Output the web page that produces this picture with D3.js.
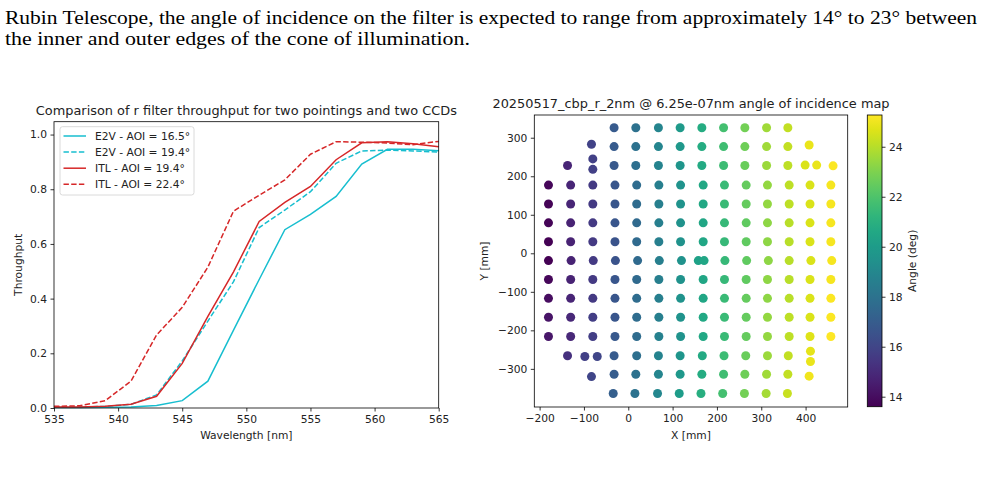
<!DOCTYPE html>
<html lang="en">
<head>
    <meta charset="utf-8">
    <title>r filter throughput and AOI map</title>
    <script src="https://d3js.org/d3.v7.min.js"></script>
    <style>
        body { margin: 0; background: #fff; }
        svg { display: block; font-family: "DejaVu Sans", sans-serif; }
    </style>
</head>
<body>
<svg width="984" height="481"></svg>
<script>
    // ---- data: throughput curves ----
    var wavelengths = [535, 537, 539, 541, 543, 545, 547, 549, 551, 553, 555, 557, 559, 561, 563, 565];
    var e2v165 = [0.002, 0.002, 0.003, 0.004, 0.009, 0.027, 0.098, 0.285, 0.470, 0.652, 0.708, 0.774, 0.892, 0.946, 0.946, 0.941];
    var e2v194 = [0.003, 0.004, 0.006, 0.013, 0.048, 0.172, 0.318, 0.462, 0.660, 0.724, 0.791, 0.895, 0.940, 0.943, 0.940, 0.936];
    var itl194 = [0.004, 0.004, 0.006, 0.014, 0.043, 0.163, 0.335, 0.498, 0.682, 0.752, 0.810, 0.908, 0.970, 0.974, 0.966, 0.955];
    var itl224 = [0.006, 0.008, 0.027, 0.098, 0.267, 0.368, 0.515, 0.720, 0.778, 0.834, 0.928, 0.974, 0.972, 0.969, 0.963, 0.975];
    var seriesNames = ["E2V - AOI = 16.5°", "E2V - AOI = 19.4°", "ITL - AOI = 19.4°", "ITL - AOI = 22.4°"];
    var wlTicks = [535, 540, 545, 550, 555, 560, 565];
    var tpTicks = [0, 0.2, 0.4, 0.6, 0.8, 1.0];

    // ---- data: angle of incidence map (one line per row of pointings) ----
    var pointX = [
        -32, 17, 68, 117, 166, 215, 263, 312, 360,
        -83, -32, 17, 68, 117, 166, 215, 263, 312, 360, 408,
        -137, -80, -80, -32, 17, 68, 117, 166, 215, 263, 312, 360, 399, 425, 462,
        -180, -130, -80, -30, 19, 69, 118, 169, 217, 266, 314, 363, 410, 457,
        -180, -130, -80, -30, 19, 69, 118, 169, 217, 266, 314, 363, 410, 457,
        -180, -130, -80, -30, 19, 69, 118, 169, 217, 266, 314, 363, 410, 457,
        -180, -130, -80, -30, 19, 69, 118, 169, 217, 266, 314, 363, 410, 457,
        -180, -129, -79, -29, 21, 70, 120, 158, 171, 218, 267, 316, 363, 412, 459,
        -180, -130, -80, -30, 19, 69, 118, 169, 217, 266, 314, 363, 410, 457,
        -180, -130, -80, -30, 19, 69, 118, 169, 217, 266, 314, 363, 410, 457,
        -180, -130, -80, -30, 19, 69, 118, 169, 217, 266, 314, 363, 410, 457,
        -180, -130, -80, -30, 19, 69, 118, 169, 217, 266, 314, 363, 410, 457,
        -137, -98, -70, -32, 19, 68, 117, 167, 216, 265, 314, 361, 411, 411,
        -83, -32, 17, 68, 117, 166, 215, 263, 312, 360, 408,
        -34, 15, 66, 115, 164, 213, 262, 311, 359
    ];
    var pointY = [
        326, 326, 326, 326, 326, 326, 326, 326, 326,
        283, 277, 277, 277, 277, 277, 277, 277, 277, 277, 281,
        228, 245, 218, 228, 228, 228, 228, 228, 228, 228, 228, 228, 229, 229, 227,
        177, 177, 177, 177, 177, 177, 177, 177, 177, 177, 177, 177, 177, 177,
        128, 128, 128, 128, 128, 128, 128, 128, 128, 128, 128, 128, 128, 128,
        79, 79, 79, 79, 79, 79, 79, 79, 79, 79, 79, 79, 79, 79,
        30, 30, 30, 30, 30, 30, 30, 30, 30, 30, 30, 30, 30, 30,
        -19, -19, -19, -19, -19, -19, -19, -19, -19, -19, -19, -19, -19, -19, -19,
        -68, -68, -68, -68, -68, -68, -68, -68, -68, -68, -68, -68, -68, -68,
        -117, -117, -117, -117, -117, -117, -117, -117, -117, -117, -117, -117, -117, -117,
        -166, -166, -166, -166, -166, -166, -166, -166, -166, -166, -166, -166, -166, -166,
        -216, -216, -216, -216, -216, -216, -216, -216, -216, -216, -216, -216, -216, -216,
        -266, -268, -268, -266, -266, -266, -266, -266, -266, -266, -266, -266, -254, -281,
        -320, -314, -314, -314, -314, -314, -314, -314, -314, -314, -319,
        -364, -364, -364, -364, -364, -364, -364, -364, -364
    ];
    var pointAngle = [
        16.9, 17.9, 18.9, 19.9, 20.8, 21.8, 22.8, 23.6, 24.2,
        15.9, 16.9, 17.9, 18.9, 19.8, 20.8, 21.7, 22.7, 23.6, 24.2, 24.9,
        14.8, 15.8, 15.8, 16.8, 17.8, 18.8, 19.7, 20.7, 21.6, 22.6, 23.5, 24.1, 24.6, 24.9, 25.2,
        13.8, 14.8, 15.6, 16.7, 17.7, 18.6, 19.6, 20.6, 21.5, 22.5, 23.4, 24.1, 24.6, 25.1,
        13.7, 14.8, 15.6, 16.7, 17.7, 18.6, 19.6, 20.6, 21.5, 22.5, 23.4, 24.1, 24.6, 25.1,
        13.7, 14.7, 15.6, 16.7, 17.6, 18.6, 19.5, 20.5, 21.4, 22.4, 23.3, 24.0, 24.6, 25.1,
        13.6, 14.7, 15.6, 16.6, 17.6, 18.6, 19.5, 20.5, 21.4, 22.4, 23.3, 24.0, 24.6, 25.1,
        13.6, 14.7, 15.6, 16.6, 17.6, 18.6, 19.5, 20.3, 20.5, 21.4, 22.4, 23.3, 24.0, 24.6, 25.1,
        13.8, 14.7, 15.6, 16.7, 17.6, 18.6, 19.5, 20.5, 21.4, 22.4, 23.3, 24.0, 24.6, 25.1,
        14.0, 14.8, 15.6, 16.7, 17.7, 18.6, 19.6, 20.5, 21.5, 22.5, 23.3, 24.0, 24.6, 25.2,
        14.2, 14.9, 15.7, 16.7, 17.7, 18.6, 19.6, 20.6, 21.5, 22.5, 23.4, 24.1, 24.6, 25.2,
        14.3, 14.9, 15.7, 16.8, 17.7, 18.7, 19.6, 20.6, 21.5, 22.5, 23.4, 24.1, 24.7, 25.27,
        15.2, 15.8, 16.0, 16.9, 17.8, 18.8, 19.7, 20.7, 21.6, 22.6, 23.5, 24.2, 24.8, 24.9,
        16.0, 17.0, 17.9, 18.9, 19.8, 20.8, 21.7, 22.7, 23.6, 24.2, 25.0,
        17.1, 18.0, 19.0, 20.0, 20.9, 21.8, 22.8, 23.7, 24.3
    ];
    var xTicksMm = [-200, -100, 0, 100, 200, 300, 400];
    var yTicksMm = [-300, -200, -100, 0, 100, 200, 300];
    var cbarTicks = [14, 16, 18, 20, 22, 24];

    var svg = d3.select("svg");
    svg.append("rect").attr("width", 984).attr("height", 481).attr("fill", "#fff");

    // paragraph text above the figure
    svg.append("text").attr("x", 5).attr("y", 24)
        .attr("font-family", "Liberation Serif, serif").attr("font-size", 18)
        .attr("textLength", 972).attr("lengthAdjust", "spacingAndGlyphs")
        .text("Rubin Telescope, the angle of incidence on the filter is expected to range from approximately 14° to 23° between");
    svg.append("text").attr("x", 5).attr("y", 45)
        .attr("font-family", "Liberation Serif, serif").attr("font-size", 18)
        .attr("textLength", 465).attr("lengthAdjust", "spacingAndGlyphs")
        .text("the inner and outer edges of the cone of illumination.");

    var tickFont = 10.7;
    var titleFont = 12.9;

    function styleAxis(ax) {
        ax.select(".domain").remove();
        ax.selectAll(".tick line").attr("stroke", "#000").attr("stroke-width", 0.8);
        ax.selectAll(".tick text").attr("fill", "#222").attr("font-size", tickFont)
            .attr("font-family", "DejaVu Sans, sans-serif");
    }

    // ================= left: throughput =================
    var L = {left: 54, right: 438.7, top: 121.7, bottom: 408};
    var xW = d3.scaleLinear().domain([535, 565]).range([L.left, L.right]);
    var yT = d3.scaleLinear().domain([0, 1.047]).range([L.bottom, L.top]);

    var gl = svg.append("g");
    var colors = ["#17becf", "#17becf", "#d62728", "#d62728"];
    var dashes = [null, "5.4,2.3", null, "5.4,2.3"];
    var allSeries = [e2v165, e2v194, itl194, itl224];

    var line = d3.line()
        .x(function(d, i) { return xW(wavelengths[i]); })
        .y(function(d) { return yT(d); });

    gl.selectAll(".curve")
        .data(allSeries)
        .enter()
        .append("path")
        .attr("class", "curve")
        .attr("d", line)
        .attr("fill", "none")
        .attr("stroke", function(d, i) { return colors[i]; })
        .attr("stroke-width", 1.5)
        .attr("stroke-dasharray", function(d, i) { return dashes[i]; });

    var axL = gl.append("g").attr("transform", "translate(0," + L.bottom + ")")
        .call(d3.axisBottom(xW).tickValues(wlTicks).tickSize(3.5).tickPadding(3.5));
    styleAxis(axL);
    var ayL = gl.append("g").attr("transform", "translate(" + L.left + ",0)")
        .call(d3.axisLeft(yT).tickValues(tpTicks).tickFormat(d3.format(".1f")).tickSize(3.5).tickPadding(3.5));
    styleAxis(ayL);

    gl.append("rect")
        .attr("x", L.left).attr("y", L.top)
        .attr("width", L.right - L.left).attr("height", L.bottom - L.top)
        .attr("fill", "none").attr("stroke", "#000").attr("stroke-width", 0.8);

    gl.append("text").attr("x", (L.left + L.right) / 2).attr("y", 114.5)
        .attr("text-anchor", "middle").attr("font-size", titleFont).attr("fill", "#222")
        .text("Comparison of r filter throughput for two pointings and two CCDs");
    gl.append("text").attr("x", (L.left + L.right) / 2).attr("y", 439)
        .attr("text-anchor", "middle").attr("font-size", tickFont).attr("fill", "#222")
        .text("Wavelength [nm]");
    gl.append("text")
        .attr("transform", "translate(22," + (L.top + L.bottom) / 2 + ") rotate(-90)")
        .attr("text-anchor", "middle").attr("font-size", tickFont).attr("fill", "#222")
        .text("Throughput");

    // legend
    var leg = gl.append("g");
    leg.append("rect").attr("x", 60).attr("y", 126.7).attr("width", 134).attr("height", 68.3)
        .attr("rx", 2.5).attr("fill", "#fff").attr("fill-opacity", 0.8)
        .attr("stroke", "#d0d0d0").attr("stroke-width", 0.8);
    var legRows = leg.selectAll(".lr")
        .data(seriesNames)
        .enter()
        .append("g")
        .attr("transform", function(d, i) { return "translate(0," + (136 + i * 16.1) + ")"; });
    legRows.append("line")
        .attr("x1", 63.5).attr("x2", 86).attr("y1", 0).attr("y2", 0)
        .attr("stroke", function(d, i) { return colors[i]; })
        .attr("stroke-width", 1.5)
        .attr("stroke-dasharray", function(d, i) { return dashes[i]; });
    legRows.append("text").attr("x", 95).attr("y", 0).attr("dy", "0.35em")
        .attr("font-size", tickFont).attr("fill", "#222").text(function(d) { return d; });

    // ================= right: AOI map =================
    var R = {left: 534.3, right: 847.7, top: 115, bottom: 407};
    var xS = d3.scaleLinear().domain([-212, 495]).range([R.left, R.right]);
    var yS = d3.scaleLinear().domain([-399, 359]).range([R.bottom, R.top]);
    var cMin = 13.6, cMax = 25.27;
    var color = d3.scaleSequential(d3.interpolateViridis).domain([cMin, cMax]);

    var gr = svg.append("g");
    gr.selectAll(".pt")
        .data(pointAngle)
        .enter()
        .append("circle")
        .attr("class", "pt")
        .attr("cx", function(d, i) { return xS(pointX[i]); })
        .attr("cy", function(d, i) { return yS(pointY[i]); })
        .attr("r", 4.5)
        .attr("fill", function(d) { return color(d); });

    var axR = gr.append("g").attr("transform", "translate(0," + R.bottom + ")")
        .call(d3.axisBottom(xS).tickValues(xTicksMm).tickSize(3.5).tickPadding(3.5));
    styleAxis(axR);
    var ayR = gr.append("g").attr("transform", "translate(" + R.left + ",0)")
        .call(d3.axisLeft(yS).tickValues(yTicksMm).tickSize(3.5).tickPadding(3.5));
    styleAxis(ayR);

    gr.append("rect")
        .attr("x", R.left).attr("y", R.top)
        .attr("width", R.right - R.left).attr("height", R.bottom - R.top)
        .attr("fill", "none").attr("stroke", "#000").attr("stroke-width", 0.8);

    gr.append("text").attr("x", 691).attr("y", 108)
        .attr("text-anchor", "middle").attr("font-size", titleFont).attr("fill", "#222")
        .text("20250517_cbp_r_2nm @ 6.25e-07nm angle of incidence map");
    gr.append("text").attr("x", (R.left + R.right) / 2).attr("y", 439)
        .attr("text-anchor", "middle").attr("font-size", tickFont).attr("fill", "#222")
        .text("X [mm]");
    gr.append("text")
        .attr("transform", "translate(488," + (R.top + R.bottom) / 2 + ") rotate(-90)")
        .attr("text-anchor", "middle").attr("font-size", tickFont).attr("fill", "#222")
        .text("Y [mm]");

    // colorbar
    var C = {left: 867.3, right: 882, top: 115, bottom: 406.7};
    var cScale = d3.scaleLinear().domain([cMin, cMax]).range([C.bottom, C.top]);
    var grad = svg.append("defs").append("linearGradient")
        .attr("id", "viridis").attr("x1", 0).attr("x2", 0).attr("y1", 1).attr("y2", 0);
    d3.range(0, 1.0001, 0.05).forEach(function(t) {
        grad.append("stop").attr("offset", t).attr("stop-color", d3.interpolateViridis(t));
    });
    gr.append("rect")
        .attr("x", C.left).attr("y", C.top)
        .attr("width", C.right - C.left).attr("height", C.bottom - C.top)
        .attr("fill", "url(#viridis)")
        .attr("stroke", "#000").attr("stroke-width", 0.8);
    var ac = gr.append("g").attr("transform", "translate(" + C.right + ",0)")
        .call(d3.axisRight(cScale).tickValues(cbarTicks).tickSize(3.5).tickPadding(3.5));
    styleAxis(ac);
    gr.append("text")
        .attr("transform", "translate(916," + (C.top + C.bottom) / 2 + ") rotate(-90)")
        .attr("text-anchor", "middle").attr("font-size", tickFont).attr("fill", "#222")
        .text("Angle (deg)");
</script>
</body>
</html>
